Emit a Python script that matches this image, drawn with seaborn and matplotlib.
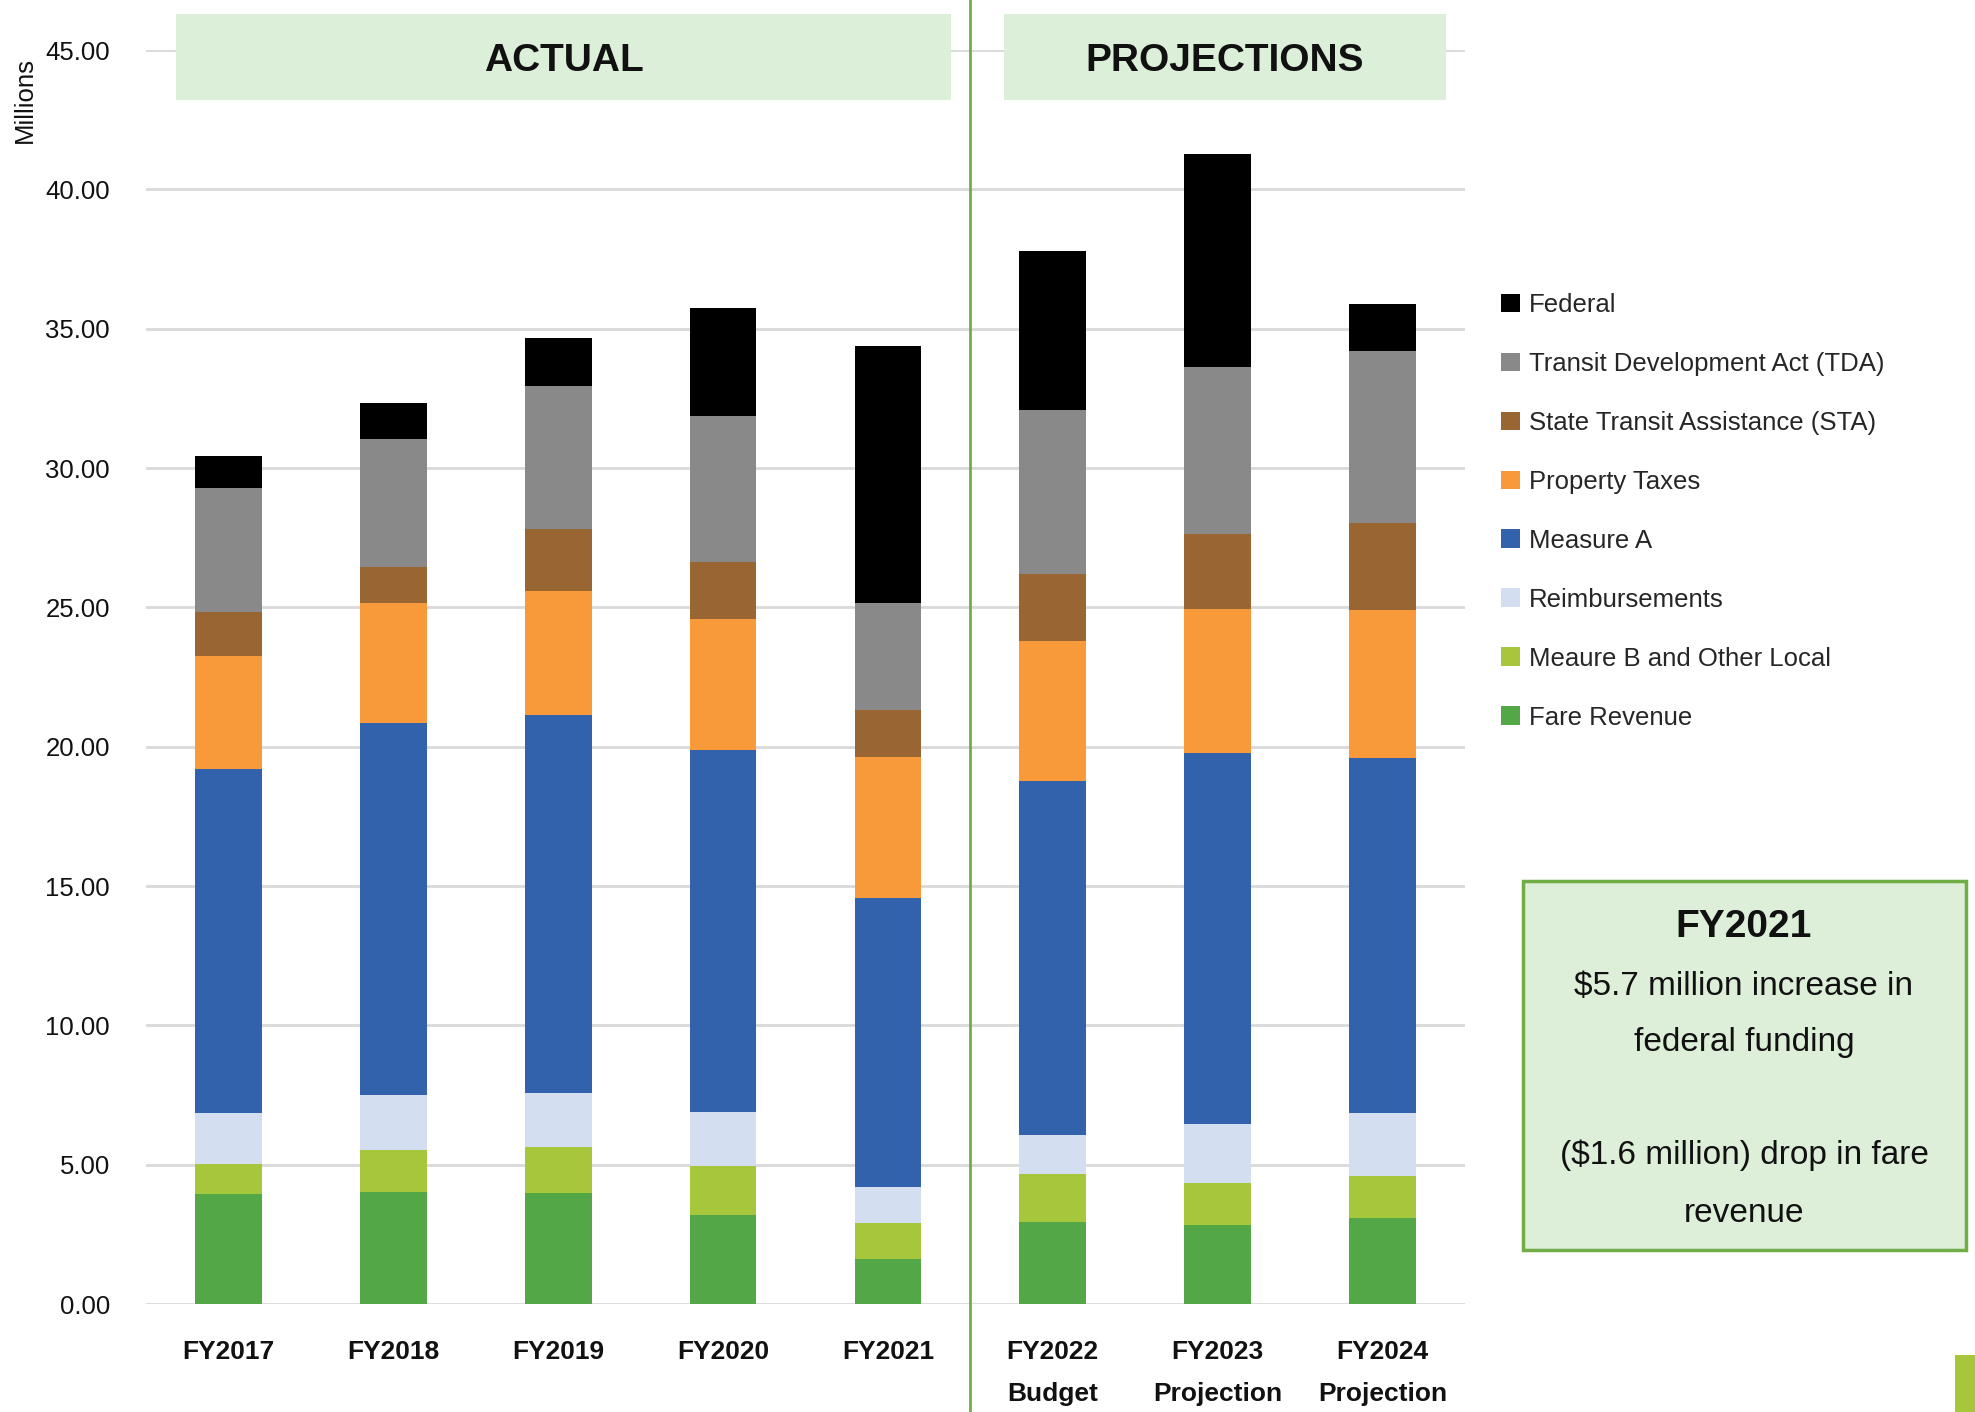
import matplotlib
matplotlib.use("Agg")
import matplotlib.pyplot as plt
import matplotlib.patches as mpatches
from matplotlib.lines import Line2D
from matplotlib.transforms import blended_transform_factory
import seaborn as sns
import pandas as pd
import numpy as np

# ---- data (millions of dollars) ----
years = ["FY2017", "FY2018", "FY2019", "FY2020", "FY2021", "FY2022", "FY2023", "FY2024"]
year_labels = ["FY2017", "FY2018", "FY2019", "FY2020", "FY2021",
               "FY2022\nBudget", "FY2023\nProjection", "FY2024\nProjection"]

fare_revenue    = [3.94, 4.02, 3.99, 3.21, 1.63, 2.95, 2.85, 3.10]
measure_b_local = [1.07, 1.51, 1.65, 1.76, 1.29, 1.72, 1.51, 1.49]
reimbursements  = [1.85, 1.98, 1.94, 1.92, 1.27, 1.38, 2.11, 2.28]
measure_a       = [12.33, 13.33, 13.54, 12.98, 10.39, 12.71, 13.31, 12.74]
property_taxes  = [4.08, 4.32, 4.48, 4.71, 5.04, 5.03, 5.17, 5.31]
sta             = [1.57, 1.28, 2.20, 2.06, 1.71, 2.41, 2.67, 3.09]
tda             = [4.43, 4.61, 5.13, 5.22, 3.81, 5.88, 6.00, 6.18]
federal         = [1.16, 1.28, 1.74, 3.88, 9.24, 5.70, 7.66, 1.71]

# stacked bottom -> top
series_names = ["Fare Revenue", "Meaure B and Other Local", "Reimbursements",
                "Measure A", "Property Taxes", "State Transit Assistance (STA)",
                "Transit Development Act (TDA)", "Federal"]
series_values = [fare_revenue, measure_b_local, reimbursements, measure_a,
                 property_taxes, sta, tda, federal]
series_colors = ["#53A746", "#A6C63B", "#D3DFF1", "#3162AB",
                 "#F8993A", "#996633", "#898989", "#000000"]

y_ticks = np.arange(0, 46, 5)

# ---- style ----
sns.set_theme(style="white")
plt.rcParams["font.family"] = ["Liberation Sans", "DejaVu Sans"]
TXT = "#111111"

W, H = 1975, 1412
fig = plt.figure(figsize=(W / 100, H / 100), dpi=100)
ax = fig.add_axes([146 / W, 1 - 1304 / H, 1319 / W, 1254 / H])

bottom = np.zeros(len(years))
for name, vals, col in zip(series_names, series_values, series_colors):
    df = pd.DataFrame({"year": years, "value": vals})
    sns.barplot(data=df, x="year", y="value", order=years, color=col,
                saturation=1, width=0.405, errorbar=None, bottom=bottom.copy(),
                linewidth=0, edgecolor="none", ax=ax, zorder=3)
    bottom += np.array(vals)

ax.set_xlim(-0.5, 7.5)
ax.set_ylim(0, 45)
ax.set_yticks(y_ticks)
ax.set_yticklabels([f"{v:.2f}" for v in y_ticks], fontsize=18.5, color=TXT)
ax.set_xticks(range(len(years)))
ax.set_xticklabels(year_labels, fontsize=19, fontweight="bold",
                   linespacing=1.95, color=TXT)
ax.tick_params(axis="y", length=0, pad=26)
ax.tick_params(axis="x", length=0, pad=26)
ax.set_xlabel("")
ax.set_ylabel("")
for s in ax.spines.values():
    s.set_visible(False)
ax.yaxis.grid(True, color="#D9D9D9", linewidth=2)
ax.set_axisbelow(True)

# divider between actuals and projections
tr = blended_transform_factory(ax.transData, fig.transFigure)
fig.add_artist(Line2D([4.5, 4.5], [0, 1], transform=tr, color="#70AD47", lw=2))

# section headers
header_fill = "#DCEFD9"
for x0, x1, label in [(-0.318, 4.385, "ACTUAL"), (4.706, 7.382, "PROJECTIONS")]:
    ax.add_patch(mpatches.Rectangle((x0, 43.2), x1 - x0, 3.09, facecolor=header_fill,
                                    edgecolor="none", clip_on=False, zorder=5))
    ax.text((x0 + x1) / 2, 44.62, label, ha="center", va="center", fontsize=28,
            fontweight="bold", color=TXT, clip_on=False, zorder=6)

fig.text(25 / W, 1 - 100 / H, "Millions", rotation=90, ha="center", va="center",
         fontsize=18.5, color=TXT)

# legend, top entry first
handles = [mpatches.Patch(facecolor=c, edgecolor="none")
           for c in series_colors[::-1]]
fig.legend(handles, series_names[::-1], loc="upper left",
           bbox_to_anchor=(1501 / W, 1 - 293 / H), frameon=False,
           fontsize=18.5, handlelength=0.74, handleheight=0.74,
           handletextpad=0.35, labelspacing=1.36, borderpad=0, borderaxespad=0)

# callout
fig.add_artist(mpatches.Rectangle((1523 / W, 1 - 1250 / H), 443 / W, 369 / H,
                                  transform=fig.transFigure, facecolor="#DDEED9",
                                  edgecolor="#70AD47", lw=2.5))
cx = 1744 / W
fig.text(cx, 1 - 927 / H, "FY2021", ha="center", va="center", fontsize=28,
         fontweight="bold", color=TXT)
for ypx, line in [(986, "$5.7 million increase in"), (1043, "federal funding"),
                  (1155, "($1.6 million) drop in fare"), (1214, "revenue")]:
    fig.text(cx, 1 - ypx / H, line, ha="center", va="center", fontsize=24,
             color=TXT)

# edge accent
fig.add_artist(mpatches.Rectangle((1955 / W, 0), 20 / W, 57 / H,
                                  transform=fig.transFigure, facecolor="#A6C63B",
                                  edgecolor="none"))

fig.savefig("out.png", dpi=100, facecolor="white")
